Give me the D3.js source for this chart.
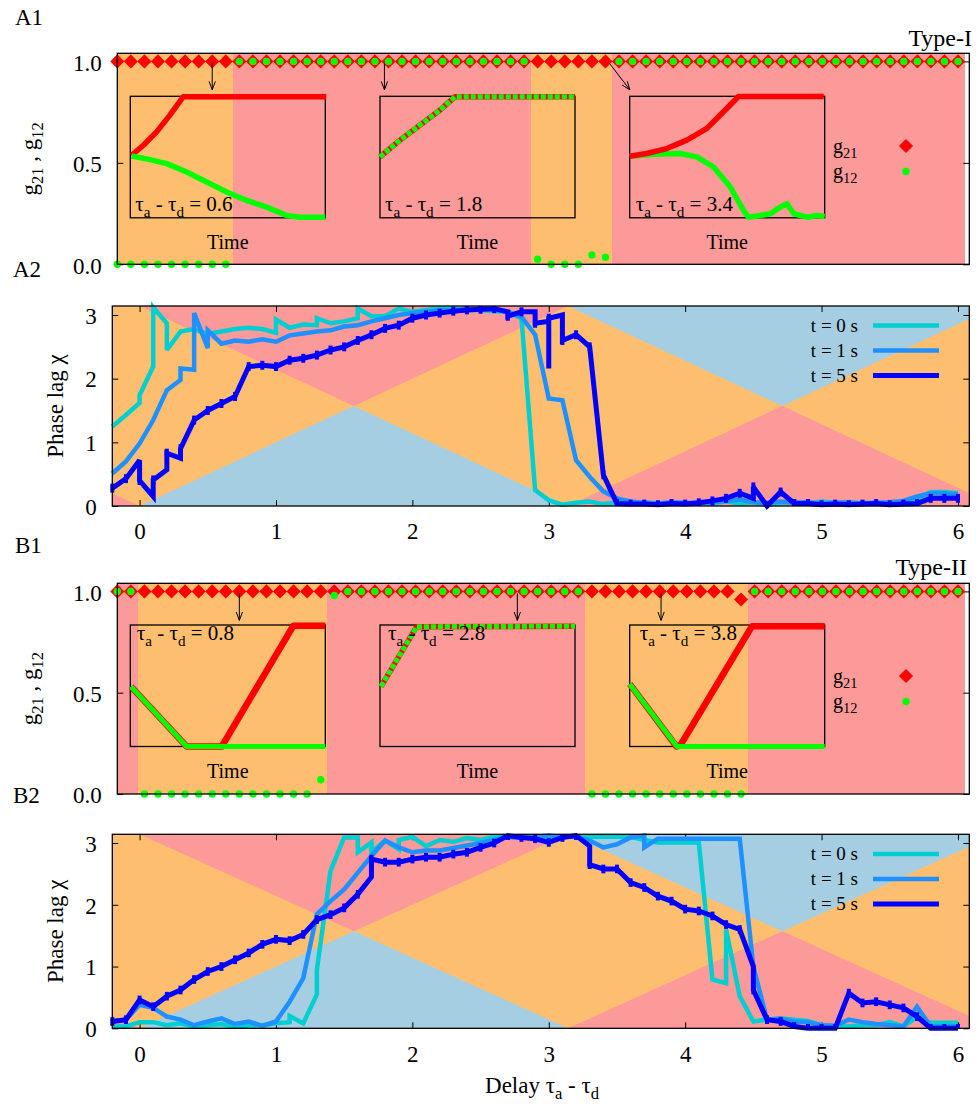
<!DOCTYPE html>
<html>
<head>
<meta charset="utf-8">
<script src="https://cdn.jsdelivr.net/npm/d3@7"></script>
<style>
  body { margin: 0; background: #fff; }
  text { font-family: "Liberation Serif", "Times New Roman", serif; fill: #000; white-space: pre; }
</style>
</head>
<body>
<svg id="chart"></svg>
<script>
// delay grid (tau_a - tau_d) used by every panel
var delays = [-0.2, -0.1, 0, 0.1, 0.2, 0.3, 0.4, 0.5, 0.6, 0.7,
  0.8, 0.9, 1, 1.1, 1.2, 1.3, 1.4, 1.5, 1.6, 1.7,
  1.8, 1.9, 2, 2.1, 2.2, 2.3, 2.4, 2.5, 2.6, 2.7,
  2.8, 2.9, 3, 3.1, 3.2, 3.3, 3.4, 3.5, 3.6, 3.7,
  3.8, 3.9, 4, 4.1, 4.2, 4.3, 4.4, 4.5, 4.6, 4.7,
  4.8, 4.9, 5, 5.1, 5.2, 5.3, 5.4, 5.5, 5.6, 5.7,
  5.8, 5.9, 6];

// A1 (Type-I) final weights
var g21A = [1, 1, 1, 1, 1, 1, 1, 1, 1, 1,
  1, 1, 1, 1, 1, 1, 1, 1, 1, 1,
  1, 1, 1, 1, 1, 1, 1, 1, 1, 1,
  1, 1, 1, 1, 1, 1, 1, 1, 1, 1,
  1, 1, 1, 1, 1, 1, 1, 1, 1, 1,
  1, 1, 1, 1, 1, 1, 1, 1, 1, 1,
  1, 1, 1];
var g12A = [0, 0, 0, 0, 0, 0, 0, 0, 0, 1,
  1, 1, 1, 1, 1, 1, 1, 1, 1, 1,
  1, 1, 1, 1, 1, 1, 1, 1, 1, 1,
  1, 0.025, 0, 0, 0, 0.046, 0.035, 1, 1, 1,
  1, 1, 1, 1, 1, 1, 1, 1, 1, 1,
  1, 1, 1, 1, 1, 1, 1, 1, 1, 1,
  1, 1, 1];

// B1 (Type-II) final weights
var g21B = [1, 1, 1, 1, 1, 1, 1, 1, 1, 1,
  1, 1, 1, 1, 1, 1, 1, 1, 1, 1,
  1, 1, 1, 1, 1, 1, 1, 1, 1, 1,
  1, 1, 1, 1, 1, 1, 1, 1, 1, 1,
  1, 1, 1, 1, 1, 1, 0.96, 1, 1, 1,
  1, 1, 1, 1, 1, 1, 1, 1, 1, 1,
  1, 1, 1];
var g12B = [1, 1, 0, 0, 0, 0, 0, 0, 0, 0,
  0, 0, 0, 0, 0, 0.07, 0.98, 1, 1, 1,
  1, 1, 1, 1, 1, 1, 1, 1, 1, 1,
  1, 1, 1, 1, 1, 0, 0, 0, 0, 0,
  0, 0, 0, 0, 0, 0, 0, 1, 1, 1,
  1, 1, 1, 1, 1, 1, 1, 1, 1, 1,
  1, 1, 1];

// phase lag chi; an inner array = several values visited at the same delay
var chiA0 = [1.25, 1.43, [1.62, 1.74], [2.19, 3.12], [2.87, 2.45], 2.74, 2.78, 2.7, 2.74, 2.78,
  2.8, 2.78, [2.72, 2.93], 2.8, 2.85, [2.84, 2.95], 2.87, 2.9, [2.95, 3.1], 2.98,
  2.98, 3.1, 3.05, 3.08, 3.1, 3.1, 3.08, 3.08, 3.06, 3.05,
  2.95, 0.25, 0.09, 0.02, 0.05, 0.07, 0.03, 0.05, 0.03, 0.06,
  0.04, 0.05, 0.03, 0.06, 0.04, 0.07, 0.04, 0.06, 0.02, 0.05,
  0.06, 0.04, 0.07, 0.05, 0.03, 0.05, 0.04, 0.05, 0.06, 0.1,
  0.22, 0.22, 0.2];
var chiA1 = [0.51, 0.7, 0.98, 1.35, 1.82, [1.98, 2.16], [2.14, 3.03], [2.48, 2.76], 2.55, 2.6,
  2.58, 2.62, 2.58, 2.68, 2.71, 2.74, 2.76, 2.82, 2.84, 2.9,
  2.95, 3.0, 3.03, 3.05, 3.07, 3.08, 3.1, 3.1, 3.08, 3.05,
  2.97, 2.69, 1.69, 1.66, 0.72, 0.46, 0.23, 0.12, 0.07, 0.05,
  0.04, 0.06, 0.05, 0.04, 0.06, 0.08, 0.1, 0.06, 0.05, 0.07,
  0.05, 0.06, 0.04, 0.05, 0.06, 0.04, 0.05, 0.06, 0.08, 0.15,
  0.2, 0.2, 0.18];
var chiA5 = [0.28, 0.43, [0.72, 0.4], [0.15, 0.41], [0.57, 0.83], [0.75, 0.9], 1.35, 1.5, 1.61, 1.72,
  2.19, 2.21, 2.19, 2.29, 2.32, 2.37, 2.45, 2.5, 2.6, 2.69,
  2.79, 2.84, 2.95, 3.0, 3.03, 3.06, 3.08, 3.09, 3.1, [3.05, 2.98],
  3.05, [3.05, 2.87], [2.9, 2.16, 2.95], [3.0, 2.6], 2.69, 2.5, 0.49, 0.04, 0.03, 0.03,
  0.02, 0.04, 0.03, 0.05, 0.08, 0.12, 0.2, [0.12, 0.3], 0.0, 0.22,
  0.04, 0.04, 0.02, 0.03, 0.02, 0.03, 0.04, 0.02, 0.03, 0.04,
  0.12, 0.12, 0.12];

var chiB0 = [0.03, 0.03, 0.1, 0.1, 0.05, 0.08, 0.03, 0.05, 0.07, 0.02,
  0.05, 0.05, 0.08, [0.1, 0.2], 0.08, [0.55, 0.95], 2.55, 3.09, [3.09, 2.85], [3.01, 2.85],
  3.04, [2.9, 3.05], 3.1, 2.95, 3.05, 3.02, 3.08, 3.05, 3.1, 3.1,
  3.1, 3.08, 3.05, 3.1, 3.1, 3.1, 3.1, 3.1, 3.1, 3.05,
  3.01, 3.01, 3.01, 3.01, 0.79, [0.73, 1.6], 0.52, 0.11, 0.14, 0.16,
  0.14, 0.12, 0.05, 0.03, 0.03, 0.05, 0.05, 0.1, 0.03, 0.19,
  0.09, 0.09, 0.09];
var chiB1 = [0.11, 0.14, 0.38, 0.33, 0.19, 0.14, 0.05, 0.11, 0.16, 0.07,
  0.11, 0.04, 0.11, 0.43, 0.81, 1.85, 2.06, 2.25, 2.52, 2.79,
  3.04, 2.93, 2.85, 2.88, 2.88, 2.92, 2.96, 3.0, 3.05, 3.1,
  3.08, 3.1, 3.12, 3.1, 3.1, 3.04, 2.93, 2.98, 3.09, [3.12, 2.93],
  3.07, 3.07, 3.07, 3.07, 3.07, 3.07, 3.07, 1.0, 0.14, 0.16,
  0.11, 0.1, 0.05, 0.04, 0.14, 0.1, 0.07, 0.05, 0.03, 0.35,
  0.03, 0.03, 0.03];
var chiB5 = [0.11, 0.14, 0.46, 0.35, 0.52, 0.62, 0.79, 0.92, 1.0, 1.11,
  1.22, 1.36, 1.44, 1.42, 1.52, 1.76, 1.84, 1.95, 2.17, [2.45, 2.74],
  2.69, 2.69, 2.74, 2.77, 2.77, 2.82, 2.85, 2.93, 3.0, 3.12,
  3.09, 3.07, 3.01, 3.09, 3.12, [2.95, 2.65], 2.58, 2.58, 2.36, 2.28,
  2.14, 2.06, 1.93, 1.9, 1.82, 1.68, 1.6, [1.0, 0.62], 0.14, 0.11,
  0.03, 0, 0, 0, 0.57, 0.41, 0.43, 0.38, 0.33, 0.19,
  0, 0, 0];

var seriesNames = ["t = 0 s", "t = 1 s", "t = 5 s"];

// inset time courses, [time, weight] both scaled 0..1
var insA1Red = [[0.007, 0.515], [0.067, 0.597], [0.135, 0.707], [0.203, 0.845], [0.272, 0.997], [1.005, 0.997]];
var insA1Green = [[0.007, 0.509], [0.101, 0.479], [0.187, 0.446], [0.289, 0.377], [0.392, 0.294], [0.494, 0.212],
  [0.597, 0.143], [0.7, 0.088], [0.802, 0.019], [0.87, 0.005], [1.0, 0.005]];
var insA2Both = [[0, 0.501], [0.103, 0.639], [0.205, 0.763], [0.308, 0.887], [0.385, 0.997], [1, 0.997]];
var insA3Red = [[0, 0.507], [0.087, 0.529], [0.19, 0.57], [0.293, 0.639], [0.396, 0.736], [0.481, 0.873], [0.558, 0.998], [0.995, 0.998]];
var insA3Green = [[0, 0.507], [0.121, 0.523], [0.258, 0.529], [0.344, 0.501], [0.43, 0.418], [0.516, 0.253], [0.584, 0.06],
  [0.609, 0.005], [0.669, 0.019], [0.721, 0.033], [0.772, 0.088], [0.806, 0.116], [0.841, 0.033], [0.91, 0.005], [0.961, 0.019], [1.0, 0.011]];
var insB1Red = [[0.004, 0.493], [0.289, 0], [0.469, 0], [0.836, 0.994], [1.0, 0.994]];
var insB1Green = [[0.004, 0.493], [0.289, 0], [1, 0]];
var insB2Both = [[0.005, 0.493], [0.188, 0.986], [1, 0.99]];
var insB3Red = [[0, 0.515], [0.24, 0], [0.26, 0.01], [0.627, 0.99], [1, 0.99]];
var insB3Green = [[0, 0.515], [0.242, 0], [1, 0]];

var insetLabelsA = ["0.6", "1.8", "3.4"];
var insetLabelsB = ["0.8", "2.8", "3.8"];

// arrows from a sweep point to its inset: [x0, y0, x1, y1] in panel units
var arrowsA = [[0.5, 1.0, 0.5, 0.86], [1.77, 1.0, 1.77, 0.86], [3.43, 1.0, 3.58, 0.86]];
var arrowsB = [[0.7, 1.0, 0.7, 0.857], [2.75, 1.0, 2.75, 0.857], [3.81, 1.0, 3.81, 0.857]];

var PI = Math.PI;
var pinkTris = [[[-PI, 0], [-PI / 2, PI / 2], [0, 0]], [[0, PI], [PI / 2, PI / 2], [PI, PI]], [[PI, 0], [1.5 * PI, PI / 2], [2 * PI, 0]]];
var blueTris = [[[0, 0], [PI / 2, PI / 2], [PI, 0]], [[PI, PI], [1.5 * PI, PI / 2], [2 * PI, PI]]];

var colors = { orange: "#fdbf6f", pink: "#fb9a99", blue: "#a6cee3", red: "#ff0000", green: "#00ff00" };
var lineColors = ["#00ced1", "#1e90ff", "#0000ff"];
var lineWidths = [4.5, 4.5, 5];

var xDomain = [-0.2, 2 * PI - 0.2];

var svg = d3.select("#chart").attr("width", 977).attr("height", 1105);

function richText(sel, parts, size) {
  var shift = 0;
  parts.forEach(function (p) {
    var target = p[1] ? size * 0.28 : 0;
    sel.append("tspan")
      .attr("dy", target - shift)
      .attr("font-size", p[1] ? size * 0.72 : size)
      .text(p[0]);
    shift = target;
  });
}

function tauLabel(val) {
  return [["\u03c4", 0], ["a", 1], [" - \u03c4", 0], ["d", 1], [" = " + val, 0]];
}

function arrow(g, x1, y1, x2, y2) {
  var ang = Math.atan2(y2 - y1, x2 - x1), len = 9, spread = 0.36;
  g.append("line").attr("x1", x1).attr("y1", y1).attr("x2", x2).attr("y2", y2)
    .attr("stroke", "#000").attr("stroke-width", 1);
  g.append("path")
    .attr("d", "M" + (x2 - len * Math.cos(ang - spread)) + "," + (y2 - len * Math.sin(ang - spread)) +
      "L" + x2 + "," + y2 +
      "L" + (x2 - len * Math.cos(ang + spread)) + "," + (y2 - len * Math.sin(ang + spread)))
    .attr("fill", "none").attr("stroke", "#000").attr("stroke-width", 1);
}

function styleAxis(sel) {
  sel.select(".domain").remove();
  sel.selectAll(".tick line").attr("stroke", "#000").attr("stroke-width", 1);
  sel.attr("font-family", null).attr("font-size", null);
  sel.selectAll(".tick text").attr("font-size", 23);
}

// g21 / g12 panel with insets
function topPanel(cfg) {
  var x = d3.scaleLinear().domain(xDomain).range([cfg.left, cfg.right]);
  var y = d3.scaleLinear().domain([0, 1.04]).range([cfg.bottom, cfg.top]);
  var g = svg.append("g");

  svg.append("clipPath").attr("id", "clip" + cfg.name).append("rect")
    .attr("x", cfg.left).attr("y", cfg.top)
    .attr("width", cfg.right - cfg.left).attr("height", cfg.bottom - cfg.top);

  // background bands: orange where g12 lost, pink where both potentiated
  var runs = [];
  cfg.g12.forEach(function (v, i) {
    var state = v < 0.5 ? "orange" : "pink";
    var last = runs[runs.length - 1];
    if (last && last.state === state) last.end = delays[i];
    else runs.push({ state: state, start: delays[i], end: delays[i] });
  });
  g.append("g").attr("clip-path", "url(#clip" + cfg.name + ")")
    .selectAll("rect").data(runs).join("rect")
    .attr("x", function (d) { return x(d.start - 0.05); })
    .attr("width", function (d) { return x(d.end + 0.05) - x(d.start - 0.05); })
    .attr("y", cfg.top).attr("height", cfg.bottom - cfg.top)
    .attr("fill", function (d) { return colors[d.state]; })
    .attr("shape-rendering", "crispEdges");

  // y axes
  g.append("g").attr("transform", "translate(" + cfg.left + ",0)")
    .call(d3.axisLeft(y).tickValues([0, 0.5, 1]).tickFormat(d3.format(".1f")).tickSize(-6).tickPadding(15.6))
    .call(styleAxis)
    .selectAll(".tick text").attr("dy", "0.38em");
  g.append("g").attr("transform", "translate(" + cfg.right + ",0)")
    .call(d3.axisRight(y).tickValues([0, 0.5, 1]).tickFormat("").tickSize(-6))
    .call(styleAxis);

  var diamond = d3.symbol().type(d3.symbolSquare).size(100);
  g.append("g").selectAll("path").data(cfg.g21).join("path")
    .attr("d", diamond)
    .attr("transform", function (d, i) { return "translate(" + x(delays[i]) + "," + y(d) + ") rotate(45)"; })
    .attr("fill", colors.red);
  g.append("g").selectAll("circle").data(cfg.g12).join("circle")
    .attr("cx", function (d, i) { return x(delays[i]); })
    .attr("cy", function (d) { return y(d); })
    .attr("r", 3.7)
    .attr("fill", colors.green);

  // insets
  var insetX = [130.3, 380, 629.7], insetW = 195, insetH = 121.5;
  var iy0 = cfg.top + cfg.insetTop;
  cfg.insets.forEach(function (ins, k) {
    var ig = g.append("g").attr("transform", "translate(" + insetX[k] + "," + iy0 + ")");
    var ix = d3.scaleLinear().domain([0, 1]).range([0, insetW]);
    var iy = d3.scaleLinear().domain([0, 1]).range([insetH, 0]);
    var line = d3.line().x(function (d) { return ix(d[0]); }).y(function (d) { return iy(d[1]); });
    ig.append("rect").attr("width", insetW).attr("height", insetH)
      .attr("fill", "none").attr("stroke", "#000").attr("stroke-width", 1.3);
    ins.curves.forEach(function (c) {
      ig.append("path").attr("d", line(c.data))
        .attr("fill", "none").attr("stroke", colors[c.color]).attr("stroke-width", c.width || 5.5)
        .attr("stroke-dasharray", c.dash || null)
        .attr("stroke-linejoin", "round");
    });
    var lab = ig.append("text")
      .attr("x", cfg.labelDx[k])
      .attr("y", cfg.labelTop ? 15 : insetH - 7)
      .attr("font-size", 21);
    richText(lab, tauLabel(ins.label), 21);
    ig.append("text").attr("x", insetW / 2).attr("y", insetH + 31.5)
      .attr("text-anchor", "middle").attr("font-size", 20).text("Time");
  });

  cfg.arrows.forEach(function (a) {
    arrow(g, x(a[0]), y(a[1]) + 2, x(a[2]), y(a[3]));
  });

  g.append("rect").attr("x", cfg.left).attr("y", cfg.top)
    .attr("width", cfg.right - cfg.left).attr("height", cfg.bottom - cfg.top)
    .attr("fill", "none").attr("stroke", "#000").attr("stroke-width", 1.3);

  // legend
  var lg = g.append("g");
  var t1 = lg.append("text").attr("x", 833).attr("y", cfg.legendY[0]).attr("font-size", 20);
  richText(t1, [["g", 0], ["21", 1]], 20);
  var t2 = lg.append("text").attr("x", 833).attr("y", cfg.legendY[1]).attr("font-size", 20);
  richText(t2, [["g", 0], ["12", 1]], 20);
  lg.append("path").attr("d", diamond)
    .attr("transform", "translate(906," + (cfg.legendY[0] - 6.5) + ") rotate(45)")
    .attr("fill", colors.red);
  lg.append("circle").attr("cx", 906).attr("cy", cfg.legendY[1] - 6).attr("r", 3.7).attr("fill", colors.green);

  var yl = g.append("text")
    .attr("transform", "translate(37," + (cfg.top + cfg.bottom) / 2 + ") rotate(-90)")
    .attr("text-anchor", "middle").attr("font-size", 23);
  richText(yl, [["g", 0], ["21", 1], [" , g", 0], ["12", 1]], 23);

  g.append("text").attr("x", cfg.typeX).attr("y", cfg.typeY)
    .attr("text-anchor", "end").attr("font-size", 24).text(cfg.type);
}

// phase lag panel
function phasePanel(cfg) {
  var x = d3.scaleLinear().domain(xDomain).range([cfg.left, cfg.right]);
  var y = d3.scaleLinear().domain([0, PI]).range([cfg.bottom, cfg.top]);
  var g = svg.append("g");

  svg.append("clipPath").attr("id", "clip" + cfg.name).append("rect")
    .attr("x", cfg.left).attr("y", cfg.top)
    .attr("width", cfg.right - cfg.left).attr("height", cfg.bottom - cfg.top);

  var bg = g.append("g").attr("clip-path", "url(#clip" + cfg.name + ")");
  bg.append("rect").attr("x", cfg.left).attr("y", cfg.top)
    .attr("width", cfg.right - cfg.left).attr("height", cfg.bottom - cfg.top)
    .attr("fill", colors.orange);
  var poly = function (pts) {
    return "M" + pts.map(function (p) { return x(p[0]) + "," + y(p[1]); }).join("L") + "Z";
  };
  bg.selectAll("path.pink").data(pinkTris).join("path").attr("class", "pink")
    .attr("d", poly).attr("fill", colors.pink);
  bg.selectAll("path.blue").data(blueTris).join("path").attr("class", "blue")
    .attr("d", poly).attr("fill", colors.blue);

  // axes, ticks inward on all four sides
  var intFmt = d3.format("d");
  g.append("g").attr("transform", "translate(" + cfg.left + ",0)")
    .call(d3.axisLeft(y).tickValues([0, 1, 2, 3]).tickFormat(intFmt).tickSize(-6).tickPadding(15.6))
    .call(styleAxis)
    .selectAll(".tick text").attr("dy", "0.36em");
  g.append("g").attr("transform", "translate(" + cfg.right + ",0)")
    .call(d3.axisRight(y).tickValues([0, 1, 2, 3]).tickFormat("").tickSize(-6))
    .call(styleAxis);
  g.append("g").attr("transform", "translate(0," + cfg.bottom + ")")
    .call(d3.axisBottom(x).tickValues([0, 1, 2, 3, 4, 5, 6]).tickFormat(intFmt).tickSize(-6).tickPadding(17))
    .call(styleAxis);
  g.append("g").attr("transform", "translate(0," + cfg.top + ")")
    .call(d3.axisTop(x).tickValues([0, 1, 2, 3, 4, 5, 6]).tickFormat("").tickSize(-6))
    .call(styleAxis);

  var line = d3.line().x(function (d) { return x(d[0]); }).y(function (d) { return y(d[1]); });
  cfg.series.forEach(function (s, k) {
    var pts = [];
    s.forEach(function (v, i) {
      (Array.isArray(v) ? v : [v]).forEach(function (w) { pts.push([delays[i], w]); });
    });
    g.append("path").attr("d", line(pts))
      .attr("fill", "none").attr("stroke", lineColors[k]).attr("stroke-width", lineWidths[k])
      .attr("stroke-linejoin", "miter").attr("stroke-miterlimit", 3);
  });
  // small vertical bars on the t = 5 s curve
  var last = cfg.series[2];
  g.append("g").selectAll("line").data(last).join("line")
    .attr("x1", function (d, i) { return x(delays[i]); })
    .attr("x2", function (d, i) { return x(delays[i]); })
    .attr("y1", function (d) { var v = Array.isArray(d) ? d[d.length - 1] : d; return y(Math.max(0, v - 0.07)); })
    .attr("y2", function (d) { var v = Array.isArray(d) ? d[d.length - 1] : d; return y(Math.min(PI, v + 0.07)); })
    .attr("stroke", lineColors[2]).attr("stroke-width", 4);

  g.append("rect").attr("x", cfg.left).attr("y", cfg.top)
    .attr("width", cfg.right - cfg.left).attr("height", cfg.bottom - cfg.top)
    .attr("fill", "none").attr("stroke", "#000").attr("stroke-width", 1.3);

  // legend
  seriesNames.forEach(function (name, k) {
    var ly = cfg.legendY + k * 25;
    g.append("text").attr("x", 858).attr("y", ly).attr("text-anchor", "end")
      .attr("font-size", 19).text(name);
    g.append("line").attr("x1", 873).attr("x2", 939).attr("y1", ly - 6).attr("y2", ly - 6)
      .attr("stroke", lineColors[k]).attr("stroke-width", lineWidths[k]);
  });

  g.append("text")
    .attr("transform", "translate(63," + (cfg.top + cfg.bottom) / 2 + ") rotate(-90)")
    .attr("text-anchor", "middle").attr("font-size", 23).text("Phase lag \u03c7");
}

topPanel({
  name: "A1", left: 117.3, right: 969.3, top: 53.3, bottom: 264.3,
  g21: g21A, g12: g12A, insetTop: 43, labelTop: false, labelDx: [5, 5, 6],
  insets: [
    { label: insetLabelsA[0], curves: [{ data: insA1Red, color: "red" }, { data: insA1Green, color: "green" }] },
    { label: insetLabelsA[1], curves: [{ data: insA2Both, color: "red" }, { data: insA2Both, color: "green", width: 5, dash: "5,2" }] },
    { label: insetLabelsA[2], curves: [{ data: insA3Green, color: "green" }, { data: insA3Red, color: "red" }] }
  ],
  arrows: arrowsA, legendY: [152.5, 177.5], type: "Type-I", typeX: 972, typeY: 46
});

phasePanel({
  name: "A2", left: 112.3, right: 969.3, top: 306, bottom: 506,
  series: [chiA0, chiA1, chiA5], legendY: 331.5
});

topPanel({
  name: "B1", left: 117.3, right: 969.3, top: 583.3, bottom: 794,
  g21: g21B, g12: g12B, insetTop: 41.7, labelTop: true, labelDx: [6.5, 8, 10],
  insets: [
    { label: insetLabelsB[0], curves: [{ data: insB1Red, color: "red", width: 6.5 }, { data: insB1Green, color: "green", width: 5 }] },
    { label: insetLabelsB[1], curves: [{ data: insB2Both, color: "red" }, { data: insB2Both, color: "green", width: 5, dash: "5,2" }] },
    { label: insetLabelsB[2], curves: [{ data: insB3Red, color: "red", width: 6.5 }, { data: insB3Green, color: "green", width: 5 }] }
  ],
  arrows: arrowsB, legendY: [682.5, 707.5], type: "Type-II", typeX: 967, typeY: 575
});

phasePanel({
  name: "B2", left: 112.3, right: 969.3, top: 834.3, bottom: 1028.3,
  series: [chiB0, chiB1, chiB5], legendY: 860
});

// panel letters and shared x label
[["A1", 15, 25], ["A2", 13, 277], ["B1", 15, 553], ["B2", 13, 803]].forEach(function (p) {
  svg.append("text").attr("x", p[1]).attr("y", p[2]).attr("font-size", 23).text(p[0]);
});
var xl = svg.append("text").attr("x", 542).attr("y", 1093).attr("text-anchor", "middle").attr("font-size", 23);
richText(xl, [["Delay \u03c4", 0], ["a", 1], [" - \u03c4", 0], ["d", 1]], 23);
</script>
</body>
</html>
